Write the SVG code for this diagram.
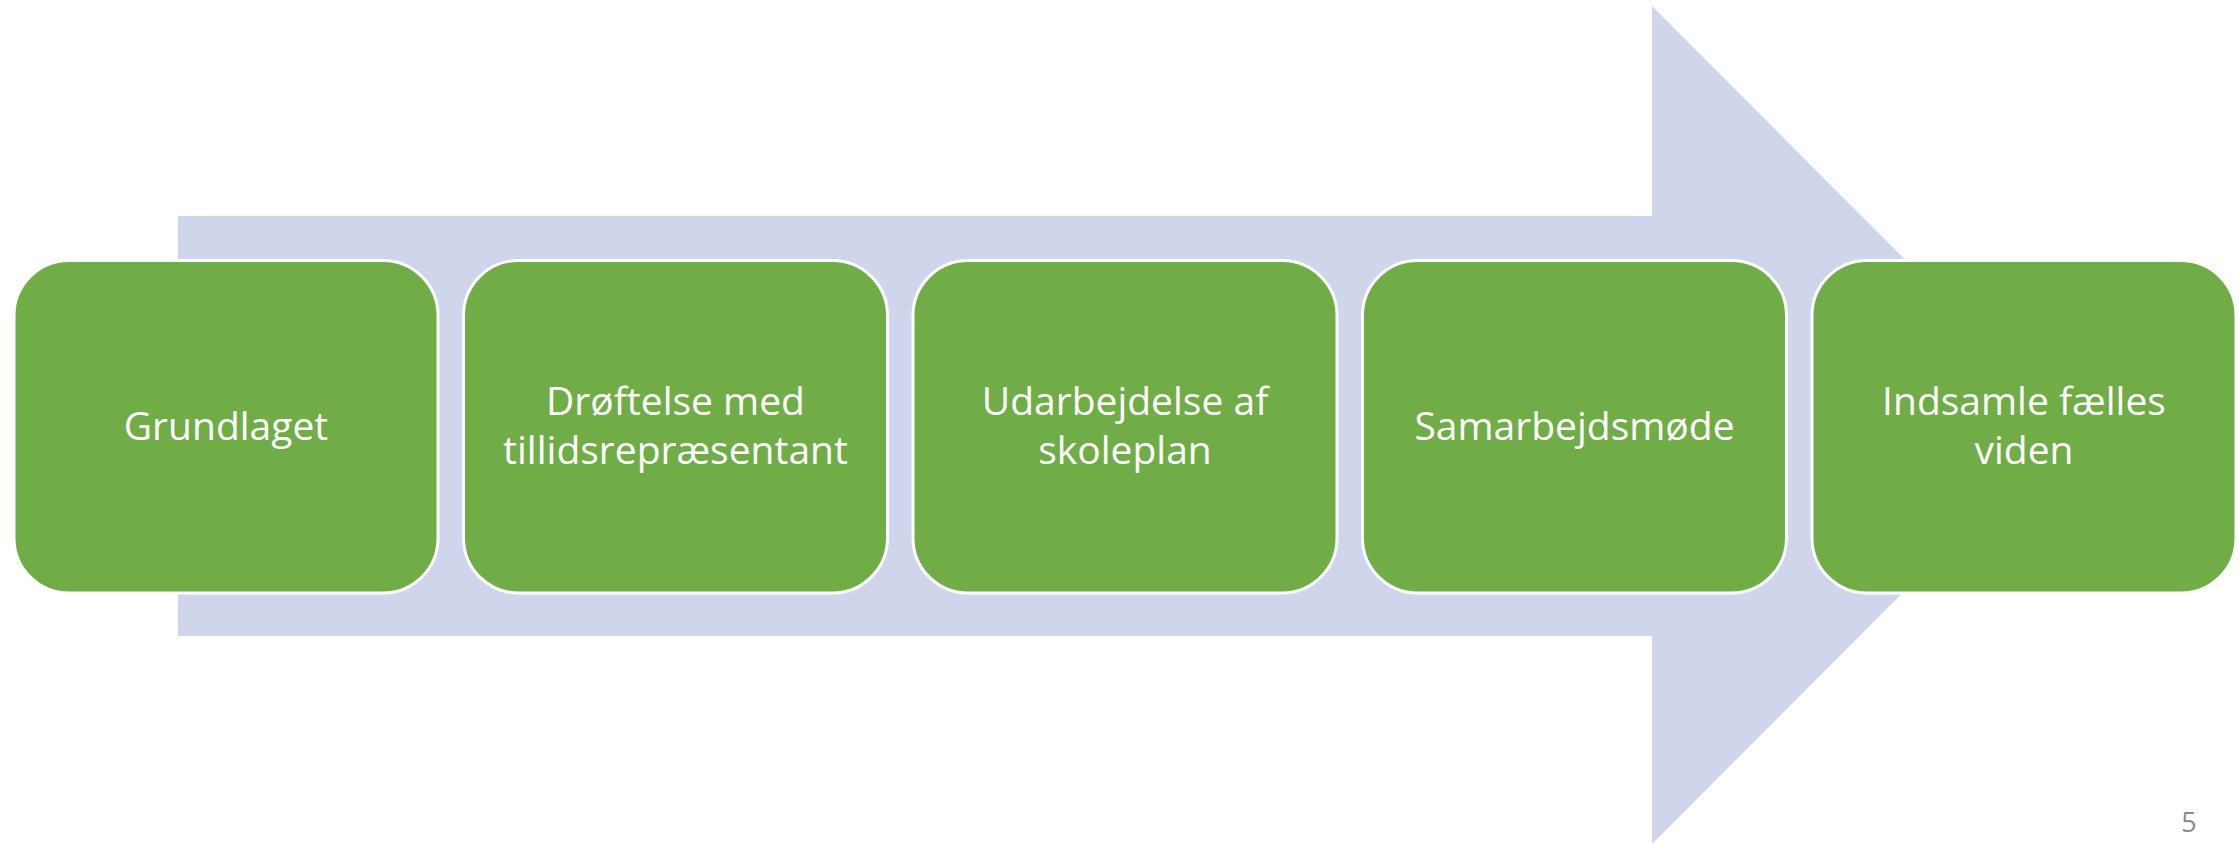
<svg xmlns="http://www.w3.org/2000/svg" width="2239" height="843" viewBox="0 0 2239 843">
<style>
.box{fill:#70AD47;stroke:#FFFFFF;stroke-width:3}
.lbl{font-family:"Open Sans","Liberation Sans",sans-serif;font-size:39px;fill:#FFFFFF;text-anchor:middle}
.pg{font-family:"Open Sans","Liberation Sans",sans-serif;font-size:27px;fill:#8C8C8C;text-anchor:middle}
</style>
<rect width="2239" height="843" fill="#FFFFFF"/>
<g id="connectors">
<polygon points="178,216 1652,216 1652,6 2070,425 1652,844 1652,636 178,636" fill="#CFD5EA"/>
</g>
<g id="node1">
<rect class="box" x="14" y="260.5" width="424" height="332.5" rx="55" ry="55"/>
<text class="lbl" x="226" y="440">Grundlaget</text>
</g>
<g id="node2">
<rect class="box" x="463.5" y="260.5" width="424" height="332.5" rx="55" ry="55"/>
<text class="lbl" x="675.5" y="415">Drøftelse med</text>
<text class="lbl" x="675.5" y="464">tillidsrepræsentant</text>
</g>
<g id="node3">
<rect class="box" x="913" y="260.5" width="424" height="332.5" rx="55" ry="55"/>
<text class="lbl" x="1125" y="415">Udarbejdelse af</text>
<text class="lbl" x="1125" y="464">skoleplan</text>
</g>
<g id="node4">
<rect class="box" x="1362.5" y="260.5" width="424" height="332.5" rx="55" ry="55"/>
<text class="lbl" x="1574.5" y="440">Samarbejdsmøde</text>
</g>
<g id="node5">
<rect class="box" x="1812" y="260.5" width="424" height="332.5" rx="55" ry="55"/>
<text class="lbl" x="2024" y="415">Indsamle fælles</text>
<text class="lbl" x="2024" y="464">viden</text>
</g>
<text class="pg" x="2189" y="832">5</text>
</svg>
